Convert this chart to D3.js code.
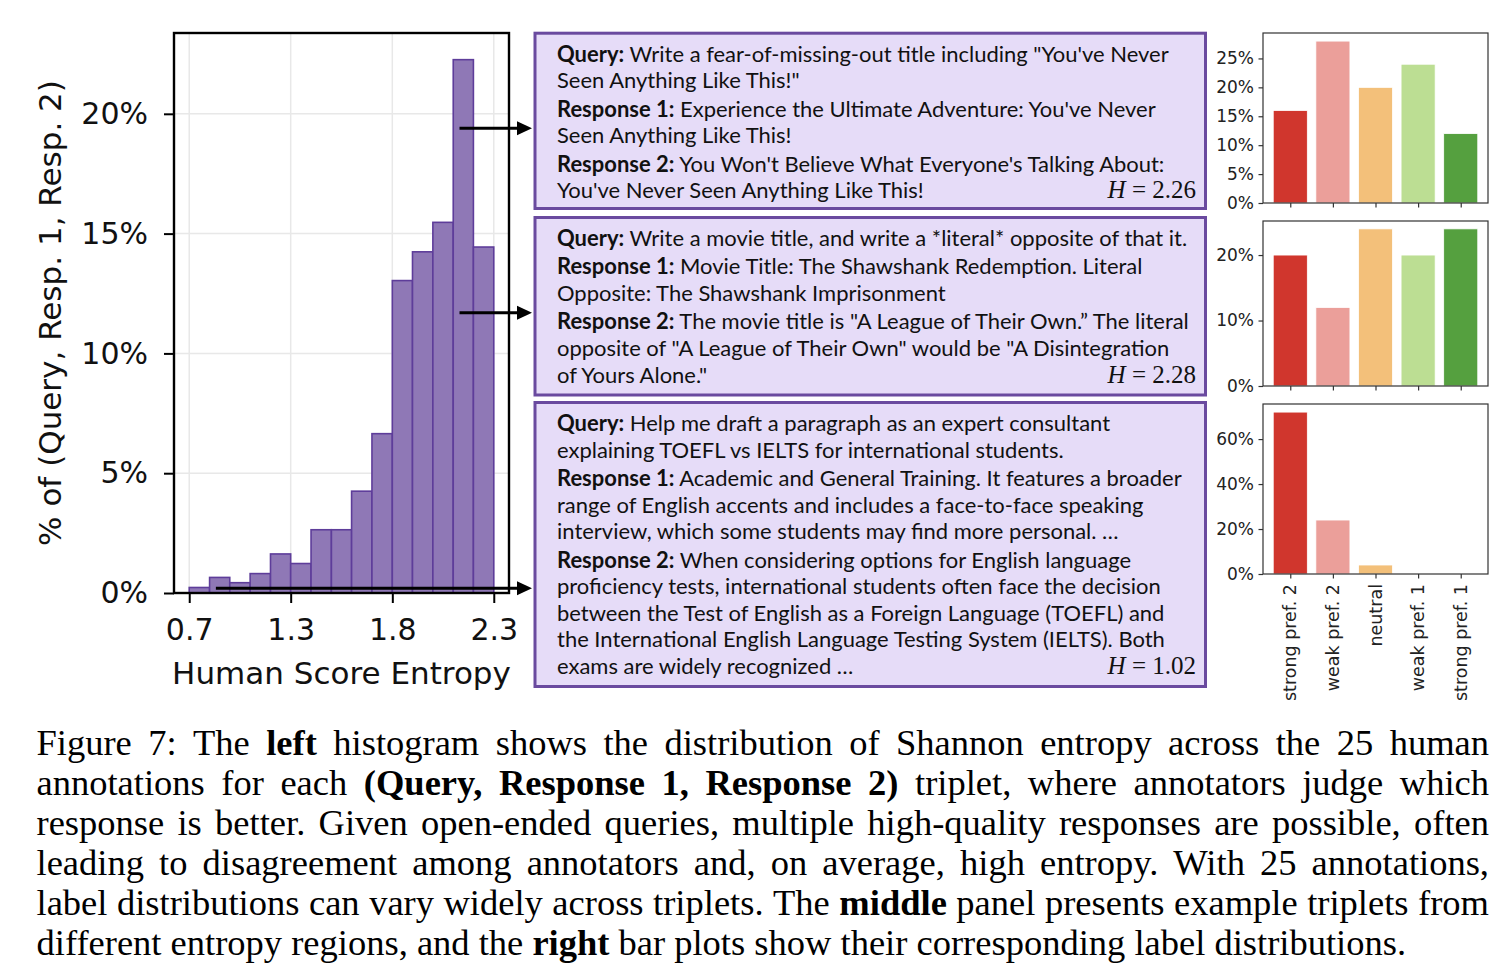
<!DOCTYPE html>
<html>
<head>
<meta charset="utf-8">
<script src="https://cdn.jsdelivr.net/npm/d3@7"></script>
<style>
  body { margin: 0; background: #fff; }
  svg { display: block; }
  text { white-space: pre; }
</style>
</head>
<body>
<div id="chart"></div>
<script>
// ---------- data ----------
// histogram of human score entropy (bin edges and share of triplets per bin, %)
const binEdges = [0.72, 0.827, 0.933, 1.04, 1.147, 1.253, 1.36, 1.467, 1.573, 1.68, 1.787, 1.893, 2.0, 2.107, 2.213, 2.32]
const binPercent = [0.23, 0.65, 0.43, 0.81, 1.63, 1.23, 2.64, 2.64, 4.25, 6.65, 13.04, 14.24, 15.47, 22.26, 14.44]
const histXTicks = [0.72, 1.253, 1.787, 2.32]
const histXLabels = ["0.7", "1.3", "1.8", "2.3"]
const histYTicks = [0, 5, 10, 15, 20]

// label distributions of the three example triplets (%)
const prefLabels = ["strong pref. 2", "weak pref. 2", "neutral", "weak pref. 1", "strong pref. 1"]
const prefColors = ["#d0362d", "#eb9f9a", "#f3c07a", "#bcde93", "#55a03f"]
const dist1 = [16, 28, 20, 24, 12]
const dist2 = [20, 12, 24, 20, 24]
const dist3 = [72, 24, 4, 0, 0]
const distTicks = [[0, 5, 10, 15, 20, 25], [0, 10, 20], [0, 20, 40, 60]]
const entropies = [2.26, 2.28, 1.02]
// where each arrow leaves the histogram (entropy, %)
const arrowFrom = [[2.14, 19.4], [2.14, 11.7], [0.86, 0.2]]

// example triplets, one entry per printed line: [bold lead, rest]
const box1 = [
  ["Query:", " Write a fear-of-missing-out title including \"You've Never"],
  ["", "Seen Anything Like This!\""],
  ["Response 1:", " Experience the Ultimate Adventure: You've Never"],
  ["", "Seen Anything Like This!"],
  ["Response 2:", " You Won't Believe What Everyone's Talking About:"],
  ["", "You've Never Seen Anything Like This!"]
]
const box2 = [
  ["Query:", " Write a movie title, and write a *literal* opposite of that it."],
  ["Response 1:", " Movie Title: The Shawshank Redemption. Literal"],
  ["", "Opposite: The Shawshank Imprisonment"],
  ["Response 2:", " The movie title is \"A League of Their Own.\u201D The literal"],
  ["", "opposite of \"A League of Their Own\" would be \"A Disintegration"],
  ["", "of Yours Alone.\""]
]
const box3 = [
  ["Query:", " Help me draft a paragraph as an expert consultant"],
  ["", "explaining TOEFL vs IELTS for international students."],
  ["Response 1:", " Academic and General Training. It features a broader"],
  ["", "range of English accents and includes a face-to-face speaking"],
  ["", "interview, which some students may find more personal. \u2026"],
  ["Response 2:", " When considering options for English language"],
  ["", "proficiency tests, international students often face the decision"],
  ["", "between the Test of English as a Foreign Language (TOEFL) and"],
  ["", "the International English Language Testing System (IELTS). Both"],
  ["", "exams are widely recognized \u2026"]
]

// caption lines, **...** is bold
const caption = [
  "Figure 7:  The **left** histogram shows the distribution of Shannon entropy across the 25 human",
  "annotations for each **(Query, Response 1, Response 2)** triplet, where annotators judge which",
  "response is better.  Given open-ended queries, multiple high-quality responses are possible, often",
  "leading to disagreement among annotators and, on average, high entropy.  With 25 annotations,",
  "label distributions can vary widely across triplets. The **middle** panel presents example triplets from",
  "different entropy regions, and the **right** bar plots show their corresponding label distributions."
]

// ---------- layout ----------
const W = 1512, H = 968
const hist = {left: 174, right: 509, top: 33, bottom: 593}
const boxX0 = 533.5, boxX1 = 1207
const boxTops = [31.7, 216, 401]
const boxBottoms = [210, 396.5, 688]
const panelX = [1263, 1488]
const panelY = [[33, 203], [221, 386], [404, 574]]

const svg = d3.select("#chart").append("svg")
    .attr("width", W)
    .attr("height", H)
svg.append("rect").attr("width", W).attr("height", H).attr("fill", "#fff")

// ---------- histogram ----------
const span = binEdges[binEdges.length - 1] - binEdges[0]
const hx = d3.scaleLinear()
    .domain([binEdges[0] - 0.05 * span, binEdges[binEdges.length - 1] + 0.05 * span])
    .range([hist.left, hist.right])
const hy = d3.scaleLinear()
    .domain([0, d3.max(binPercent) * 1.05])
    .range([hist.bottom, hist.top])

const hg = svg.append("g")

// grid
hg.selectAll(".vgrid").data(histXTicks).join("line")
    .attr("x1", d => hx(d)).attr("x2", d => hx(d))
    .attr("y1", hist.top).attr("y2", hist.bottom)
    .attr("stroke", "#e8e8e8").attr("stroke-width", 1.5)
hg.selectAll(".hgrid").data(histYTicks).join("line")
    .attr("x1", hist.left).attr("x2", hist.right)
    .attr("y1", d => hy(d)).attr("y2", d => hy(d))
    .attr("stroke", "#e8e8e8").attr("stroke-width", 1.5)

// bars
hg.selectAll(".bin").data(binPercent).join("rect")
    .attr("x", (d, i) => hx(binEdges[i]))
    .attr("width", (d, i) => hx(binEdges[i + 1]) - hx(binEdges[i]))
    .attr("y", d => hy(d))
    .attr("height", d => hy(0) - hy(d))
    .attr("fill", "#8f78b6")
    .attr("stroke", "#5e3d9a")
    .attr("stroke-width", 1.6)

// axes
const hxAxis = hg.append("g")
    .attr("transform", `translate(0,${hist.bottom})`)
    .call(d3.axisBottom(hx).tickValues(histXTicks)
        .tickFormat((d, i) => histXLabels[i]).tickSize(10).tickPadding(16))
const hyAxis = hg.append("g")
    .attr("transform", `translate(${hist.left},0)`)
    .call(d3.axisLeft(hy).tickValues(histYTicks)
        .tickFormat(d => d + "%").tickSize(10).tickPadding(16))
;[hxAxis, hyAxis].forEach(a => {
    a.select(".domain").remove()
    a.selectAll("line").attr("stroke", "#000").attr("stroke-width", 2)
    a.selectAll("text").attr("font-family", "DejaVu Sans").attr("font-size", 30).attr("fill", "#111")
})

// spines
hg.append("rect")
    .attr("x", hist.left).attr("y", hist.top)
    .attr("width", hist.right - hist.left).attr("height", hist.bottom - hist.top)
    .attr("fill", "none").attr("stroke", "#000").attr("stroke-width", 2.4)

hg.append("text")
    .attr("x", (hist.left + hist.right) / 2).attr("y", 684)
    .attr("text-anchor", "middle")
    .attr("font-family", "DejaVu Sans").attr("font-size", 31).attr("fill", "#111")
    .text("Human Score Entropy")
hg.append("text")
    .attr("transform", `translate(61,${(hist.top + hist.bottom) / 2}) rotate(-90)`)
    .attr("text-anchor", "middle")
    .attr("font-family", "DejaVu Sans").attr("font-size", 31).attr("fill", "#111")
    .text("% of (Query, Resp. 1, Resp. 2)")

// ---------- example boxes ----------
const boxes = [box1, box2, box3]
const bg = svg.append("g")
boxes.forEach((lines, i) => {
    bg.append("rect")
        .attr("x", boxX0 + 1.5).attr("y", boxTops[i] + 1.5)
        .attr("width", boxX1 - boxX0 - 3).attr("height", boxBottoms[i] - boxTops[i] - 3)
        .attr("fill", "#e6dcf8").attr("stroke", "#6a4a9f").attr("stroke-width", 3)
})

// fit box font so the first line spans the same width as in the print
const probe = bg.append("text").attr("font-family", "Lato").attr("font-size", 20)
probe.append("tspan").attr("font-weight", 700).text(box1[0][0])
probe.append("tspan").text(box1[0][1])
const boxFont = 20 * 612 / probe.node().getComputedTextLength()
probe.remove()

boxes.forEach((lines, i) => {
    let para = -1
    lines.forEach((ln, j) => {
        if (ln[0]) para++
        const t = bg.append("text")
            .attr("x", 557)
            .attr("y", boxTops[i] + 30 + j * 26.6 + para * 1.8)
            .attr("font-family", "Lato").attr("font-size", boxFont).attr("fill", "#111")
        if (ln[0]) t.append("tspan").attr("font-weight", 700).text(ln[0])
        t.append("tspan").text(ln[1])
    })
    const h = bg.append("text")
        .attr("x", 1196)
        .attr("y", boxTops[i] + 30 + (lines.length - 1) * 26.6 + para * 1.8)
        .attr("text-anchor", "end")
        .attr("font-family", "Liberation Serif").attr("font-size", 25).attr("fill", "#111")
    h.append("tspan").attr("font-style", "italic").text("H")
    h.append("tspan").text(" = " + entropies[i].toFixed(2))
})

// arrows from histogram to boxes
const ag = svg.append("g")
arrowFrom.forEach(([e, p]) => {
    const x0 = hx(e), y0 = hy(p), tip = boxX0 - 1.5
    ag.append("line")
        .attr("x1", x0).attr("x2", tip - 12).attr("y1", y0).attr("y2", y0)
        .attr("stroke", "#000").attr("stroke-width", 3)
    ag.append("path")
        .attr("d", `M${tip},${y0} L${tip - 15},${y0 - 7} L${tip - 15},${y0 + 7} Z`)
        .attr("fill", "#000")
})

// ---------- label distribution panels ----------
const dists = [dist1, dist2, dist3]
const px = d3.scaleLinear()
    .domain([-0.4 - 0.05 * 4.8, 4.4 + 0.05 * 4.8])
    .range(panelX)
dists.forEach((dist, k) => {
    const [top, bottom] = panelY[k]
    const py = d3.scaleLinear().domain([0, d3.max(dist) * 1.05]).range([bottom, top])
    const g = svg.append("g")

    g.selectAll("rect.bar").data(dist).join("rect")
        .attr("class", "bar")
        .attr("x", (d, i) => px(i - 0.4))
        .attr("width", px(0.4) - px(-0.4))
        .attr("y", d => py(d))
        .attr("height", d => py(0) - py(d))
        .attr("fill", (d, i) => prefColors[i])
        .attr("stroke", "#fff").attr("stroke-width", 0.8)

    const ya = g.append("g")
        .attr("transform", `translate(${panelX[0]},0)`)
        .call(d3.axisLeft(py).tickValues(distTicks[k]).tickFormat(d => d + "%")
            .tickSize(4.5).tickPadding(4.5))
    const xa = g.append("g")
        .attr("transform", `translate(0,${bottom})`)
        .call(d3.axisBottom(px).tickValues(d3.range(prefLabels.length))
            .tickFormat("").tickSize(4.5))
    ;[ya, xa].forEach(a => {
        a.select(".domain").remove()
        a.selectAll("line").attr("stroke", "#333").attr("stroke-width", 1.2)
        a.selectAll("text").attr("font-family", "DejaVu Sans").attr("font-size", 17).attr("fill", "#222")
    })

    g.append("rect")
        .attr("x", panelX[0]).attr("y", top)
        .attr("width", panelX[1] - panelX[0]).attr("height", bottom - top)
        .attr("fill", "none").attr("stroke", "#333").attr("stroke-width", 1.2)

    if (k === dists.length - 1) {
        g.selectAll("text.cat").data(prefLabels).join("text")
            .attr("class", "cat")
            .attr("transform", (d, i) => `translate(${px(i)},${bottom + 10}) rotate(-90)`)
            .attr("dy", "0.35em")
            .attr("text-anchor", "end")
            .attr("font-family", "DejaVu Sans").attr("font-size", 17.5).attr("fill", "#222")
            .text(d => d)
    }
})

// ---------- caption ----------
const cg = svg.append("g")
    .attr("font-family", "Liberation Serif").attr("font-size", 36.5).attr("fill", "#000")
const capX0 = 36.5, capX1 = 1489
const parseWords = str => {
    const out = []
    str.split("**").forEach((part, k) => {
        part.split(/\s+/).filter(w => w).forEach(w => out.push({w, b: k % 2 === 1}))
    })
    return out
}
caption.forEach((line, i) => {
    const words = parseWords(line)
    const t = cg.append("text").attr("y", 755 + i * 40)
    const spans = t.selectAll("tspan").data(words).join("tspan")
        .attr("font-weight", d => d.b ? 700 : null)
        .text(d => d.w)
    const widths = spans.nodes().map(n => n.getComputedTextLength())
    const last = i === caption.length - 1
    const gap = last ? 9.1 : (capX1 - capX0 - d3.sum(widths)) / (words.length - 1)
    let x = capX0
    spans.attr("x", (d, j) => { const v = x; x += widths[j] + gap; return v })
})
</script>
</body>
</html>
